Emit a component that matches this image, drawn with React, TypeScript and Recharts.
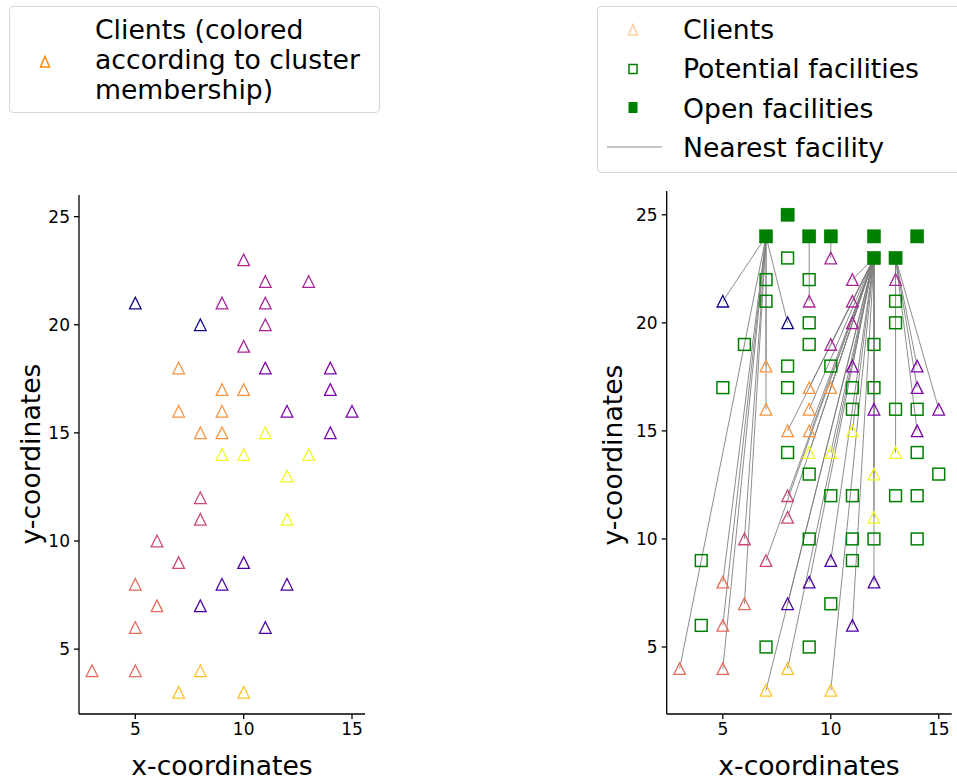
import React from 'react';
import { ScatterChart, Scatter, XAxis, YAxis, ReferenceLine } from 'recharts';

// ---- data ----
const clientX = [10, 11, 13, 5, 9, 11, 8, 11, 10, 7, 11, 14, 9, 10, 14, 7, 9, 12, 15, 8, 9, 11, 14, 9, 10, 13, 12, 8, 8, 12, 6, 7, 10, 5, 9, 12, 6, 8, 5, 11, 3, 5, 8, 7, 10];
const clientY = [23, 22, 22, 21, 21, 21, 20, 20, 19, 18, 18, 18, 17, 17, 17, 16, 16, 16, 16, 15, 15, 15, 15, 14, 14, 14, 13, 12, 11, 11, 10, 9, 9, 8, 8, 8, 7, 7, 6, 6, 4, 4, 4, 3, 3];
const clientCluster = [3, 3, 3, 0, 3, 3, 0, 3, 3, 6, 2, 2, 6, 6, 2, 6, 6, 2, 2, 6, 6, 8, 2, 8, 8, 8, 8, 4, 4, 8, 4, 4, 1, 5, 1, 1, 5, 1, 5, 1, 5, 5, 7, 7, 7];

const facilityX = [8, 7, 9, 7, 13, 9, 13, 6, 9, 12, 8, 10, 5, 8, 11, 12, 11, 13, 14, 8, 14, 9, 15, 10, 11, 13, 14, 9, 11, 12, 14, 4, 11, 10, 4, 7, 9];
const facilityY = [23, 22, 22, 21, 21, 20, 20, 19, 19, 19, 18, 18, 17, 17, 17, 17, 16, 16, 16, 14, 14, 13, 13, 12, 12, 12, 12, 10, 10, 10, 10, 9, 9, 7, 6, 5, 5];

const openX = [7, 8, 9, 10, 12, 12, 13, 14];
const openY = [24, 25, 24, 24, 24, 23, 23, 24];

const xTicks = [5, 10, 15];
const yTicks = [5, 10, 15, 20, 25];

const palette = ['#0d0887', '#4c02a1', '#7e03a8', '#a92395', '#cc4778', '#e56b5d', '#f89441', '#fdc328', '#f0f921'];

// ---- derived tables ----
const clients = clientX.map((x, i) => ({ x, y: clientY[i], cluster: clientCluster[i] }));
const facilities = facilityX.map((x, i) => ({ x, y: facilityY[i] }));
const openFacilities = openX.map((x, i) => ({ x, y: openY[i] }));

const assignments = clients.map((c) => {
  let best = 0;
  let bestD = Infinity;
  openFacilities.forEach((f, j) => {
    const d = (f.x - c.x) ** 2 + (f.y - c.y) ** 2;
    if (d < bestD) {
      bestD = d;
      best = j;
    }
  });
  return { from: c, to: openFacilities[best] };
});

const FONT = 'DejaVu Sans, Verdana, sans-serif';

const Triangle = (props: any) => {
  const { cx, cy, payload } = props;
  if (cx == null || cy == null) return null;
  const r = 5.8;
  const c = palette[payload.cluster];
  return (
    <path
      d={`M${cx},${cy - r}L${cx + r},${cy + r}L${cx - r},${cy + r}Z`}
      fill="none"
      stroke={c}
      strokeWidth={1.3}
      strokeLinejoin="miter"
    />
  );
};

const HollowSquare = (props: any) => {
  const { cx, cy } = props;
  if (cx == null || cy == null) return null;
  const r = 5.9;
  return <rect x={cx - r} y={cy - r} width={2 * r} height={2 * r} fill="none" stroke="#008000" strokeWidth={1.5} />;
};

const FilledSquare = (props: any) => {
  const { cx, cy } = props;
  if (cx == null || cy == null) return null;
  const r = 6.6;
  return <rect x={cx - r} y={cy - r} width={2 * r} height={2 * r} fill="#008000" stroke="#008000" strokeWidth={0.5} />;
};

const axisCommon = {
  type: 'number' as const,
  axisLine: { stroke: '#000', strokeWidth: 1.3 },
  tickLine: { stroke: '#000', strokeWidth: 1.3 },
  tick: { fill: '#000', fontSize: 17, fontFamily: FONT },
  tickSize: 5,
  tickMargin: 4,
  allowDataOverflow: true,
};

const YTitle = ({ x, y }: { x: number; y: number }) => (
  <text x={x} y={y} transform={`rotate(-90 ${x} ${y})`} textAnchor="middle" dominantBaseline="central" fontSize={26.67} fontFamily={FONT} fill="#000">
    y-coordinates
  </text>
);
const XTitle = ({ x, y }: { x: number; y: number }) => (
  <text x={x} y={y} textAnchor="middle" dominantBaseline="central" fontSize={26.67} fontFamily={FONT} fill="#000">
    x-coordinates
  </text>
);

const LeftChart = () => (
  <ScatterChart width={478} height={781} margin={{ top: 195, right: 113, bottom: 7, left: 0 }}>
    <XAxis {...axisCommon} dataKey="x" domain={[2.4, 15.6]} ticks={xTicks} height={60}
      label={{ content: () => <XTitle x={222} y={765} /> }} />
    <YAxis {...axisCommon} dataKey="y" domain={[2, 26]} ticks={yTicks} width={79}
      label={{ content: () => <YTitle x={30} y={454} /> }} />
    <Scatter data={clients} shape={Triangle} isAnimationActive={false} />
  </ScatterChart>
);

const RightChart = () => (
  <ScatterChart width={479} height={781} margin={{ top: 191, right: 5.3, bottom: 7, left: 0 }}>
    <XAxis {...axisCommon} dataKey="x" domain={[2.4, 15.6]} ticks={xTicks} height={60}
      label={{ content: () => <XTitle x={331} y={765} /> }} />
    <YAxis {...axisCommon} dataKey="y" domain={[1.9, 26.1]} ticks={yTicks} width={188.7}
      label={{ content: () => <YTitle x={134} y={455} /> }} />
    <Scatter data={facilities} shape={HollowSquare} isAnimationActive={false} />
    <Scatter data={openFacilities} shape={FilledSquare} isAnimationActive={false} />
    <Scatter data={clients} shape={Triangle} isAnimationActive={false} />
    {assignments.map((a, i) => (
      <ReferenceLine
        key={i}
        segment={[{ x: a.from.x, y: a.from.y }, { x: a.to.x, y: a.to.y }]}
        stroke="#808080"
        strokeWidth={0.9}
        ifOverflow="visible"
      />
    ))}
  </ScatterChart>
);

const Legends = () => (
  <svg width={957} height={180} style={{ position: 'absolute', left: 0, top: 0 }}>
    {/* left legend */}
    <rect x={9.5} y={6.5} width={370} height={106} rx={4} fill="#fff" stroke="#d6d6d6" strokeWidth={1} />
    <path d="M45,56.5L49.5,67L40.5,67Z" fill="none" stroke="#ff8c00" strokeWidth={1.5} />
    <g fontFamily={FONT} fontSize={26.67} fill="#000" dominantBaseline="central">
      <text x={95} y={29}>Clients (colored</text>
      <text x={95} y={59}>according to cluster</text>
      <text x={95} y={89}>membership)</text>
    </g>
    {/* right legend */}
    <rect x={597.5} y={6.5} width={380} height={166} rx={4} fill="#fff" stroke="#d6d6d6" strokeWidth={1} />
    <path d="M633,24.5L637.5,35L628.5,35Z" fill="none" stroke="#ffcf9e" strokeWidth={1.5} />
    <rect x={629} y={64.5} width={8} height={9} fill="none" stroke="#008000" strokeWidth={1.5} />
    <rect x={628.5} y={102} width={9} height={11} fill="#008000" />
    <line x1={607} y1={147} x2={662} y2={147} stroke="#808080" strokeWidth={0.9} />
    <g fontFamily={FONT} fontSize={26.67} fill="#000" dominantBaseline="central">
      <text x={683} y={29}>Clients</text>
      <text x={683} y={68}>Potential facilities</text>
      <text x={683} y={108}>Open facilities</text>
      <text x={683} y={147}>Nearest facility</text>
    </g>
  </svg>
);

export default function App() {
  return (
    <div style={{ position: 'absolute', left: 0, top: 0, width: 957, height: 781, background: '#fff', overflow: 'hidden' }}>
      <div style={{ position: 'absolute', left: 0, top: 0 }}>
        <LeftChart />
      </div>
      <div style={{ position: 'absolute', left: 478, top: 0 }}>
        <RightChart />
      </div>
      <Legends />
    </div>
  );
}
